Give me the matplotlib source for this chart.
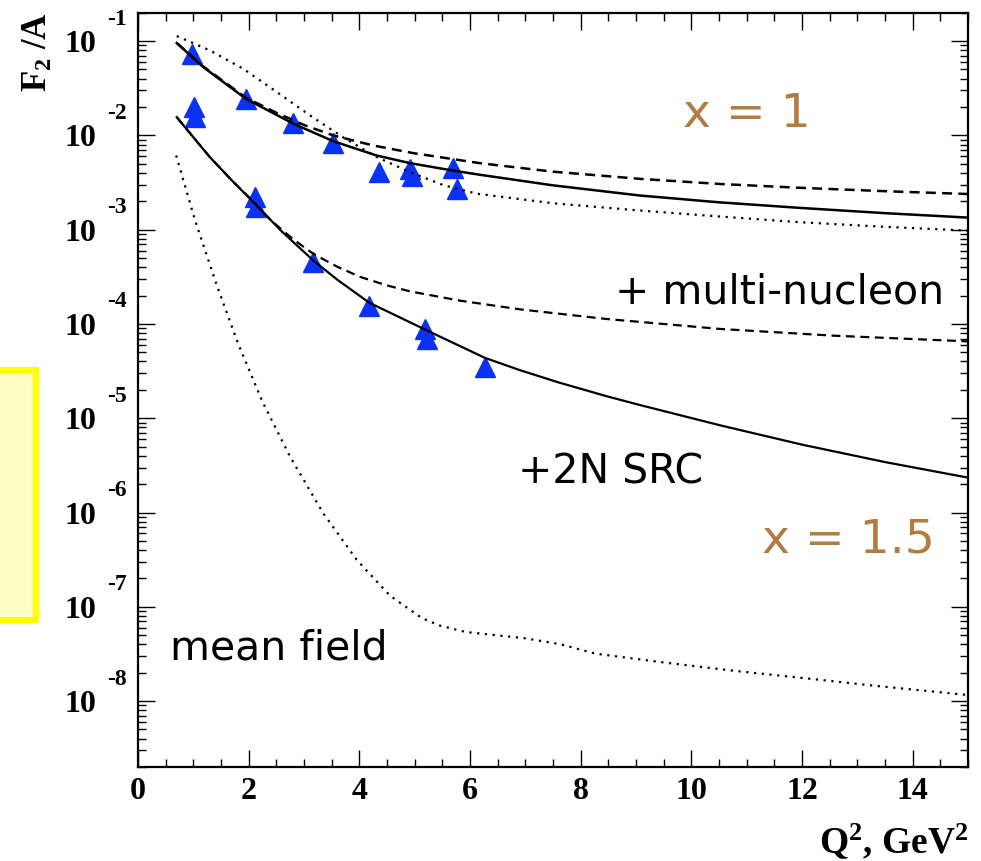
import matplotlib
matplotlib.use('Agg')
import matplotlib.pyplot as plt
import matplotlib.transforms as mtransforms
from matplotlib.patches import Rectangle
from matplotlib.ticker import MultipleLocator, LogLocator, NullFormatter
import numpy as np

plt.rcParams['font.family'] = 'Liberation Serif'
plt.rcParams['font.weight'] = 'bold'
plt.rcParams['mathtext.fontset'] = 'custom'
plt.rcParams['mathtext.rm'] = 'Liberation Serif:bold'
plt.rcParams['mathtext.it'] = 'Liberation Serif:bold'
plt.rcParams['mathtext.bf'] = 'Liberation Serif:bold'

# data points (x = 1 and x = 1.5), Q^2 in GeV^2, log10(F2/A)
q2_x1 = [0.98, 1.95, 2.80, 3.53, 4.36, 4.92, 4.95, 5.69, 5.77]
lg_x1 = [-1.141, -1.612, -1.871, -2.083, -2.391, -2.355, -2.426, -2.344, -2.567]
q2_x15 = [1.02, 1.03, 2.12, 2.13, 3.17, 4.18, 5.19, 5.22, 6.27]
lg_x15 = [-1.701, -1.807, -2.656, -2.762, -3.346, -3.806, -4.053, -4.160, -4.461]

# x = 1 curves
q2_s1 = [0.70, 1.18, 1.95, 2.81, 3.53, 4.31, 4.92, 5.69, 6.18, 7.5, 9.07, 10.5, 11.96, 13.5, 15.0]
lg_s1 = [-1.021, -1.276, -1.612, -1.877, -2.062, -2.213, -2.295, -2.373, -2.418, -2.53, -2.638, -2.71, -2.769, -2.825, -2.872]
q2_d1 = [0.70, 1.18, 1.95, 2.5, 3.0, 3.53, 4.25, 4.98, 6.18, 7.5, 9.07, 10.5, 11.96, 13.5, 15.0]
lg_d1 = [-1.02, -1.27, -1.60, -1.76, -1.89, -2.001, -2.107, -2.189, -2.295, -2.385, -2.461, -2.515, -2.556, -2.592, -2.622]
q2_m1 = [0.70, 1.30, 1.90, 2.51, 3.11, 3.72, 4.32, 4.92, 5.52, 6.12, 7.5, 9.07, 10.5, 11.96, 13.5, 15.0]
lg_m1 = [-0.947, -1.099, -1.293, -1.541, -1.789, -2.026, -2.232, -2.391, -2.528, -2.618, -2.72, -2.797, -2.86, -2.921, -2.97, -3.01]

# x = 1.5 curves
q2_s15 = [0.70, 1.30, 1.70, 2.115, 2.6, 3.17, 3.6, 4.18, 4.8, 5.19, 6.27, 6.9, 7.6, 8.46, 9.07, 10.52, 12.0, 13.5, 15.0]
lg_s15 = [-1.807, -2.232, -2.48, -2.726, -3.02, -3.328, -3.53, -3.775, -3.95, -4.06, -4.36, -4.49, -4.62, -4.765, -4.86, -5.075, -5.28, -5.465, -5.63]
q2_d15 = [0.70, 1.30, 1.70, 2.115, 2.39, 2.8, 3.17, 3.59, 4.01, 4.49, 4.92, 5.82, 6.90, 8.46, 10.52, 12.56, 15.0]
lg_d15 = [-1.807, -2.232, -2.48, -2.72, -2.895, -3.10, -3.257, -3.39, -3.50, -3.59, -3.655, -3.753, -3.845, -3.947, -4.053, -4.124, -4.185]
q2_mf = [0.69, 1.03, 1.43, 1.81, 2.25, 2.75, 3.35, 3.95, 4.55, 5.13, 5.46, 5.92, 7.0, 7.64, 8.27, 9.54, 10.81, 12.08, 13.36, 15.0]
lg_mf = [-2.213, -2.90, -3.60, -4.21, -4.826, -5.41, -6.01, -6.50, -6.88, -7.12, -7.20, -7.267, -7.334, -7.398, -7.497, -7.593, -7.681, -7.759, -7.840, -7.936]

xticks = [0, 2, 4, 6, 8, 10, 12, 14]
ydecades = [-1, -2, -3, -4, -5, -6, -7, -8]

fig = plt.figure(figsize=(9.81, 8.61), dpi=100)
ax = fig.add_axes([138/981, 1 - 767/861, 830/981, (767 - 12.7)/861])

def p(v):
    return 10.0 ** np.array(v)

blue = '#0a32f5'
ax.plot(q2_x1, p(lg_x1), '^', ms=14.5, color=blue, zorder=2)
ax.plot(q2_x15, p(lg_x15), '^', ms=14.5, color=blue, zorder=2)

dash = (0, (4, 2.5))
dot = (0, (1, 2.5))
ax.plot(q2_s1, p(lg_s1), color='black', lw=1.8, zorder=3)
ax.plot(q2_d1, p(lg_d1), color='black', lw=1.8, ls=dash, zorder=3)
ax.plot(q2_m1, p(lg_m1), color='black', lw=1.6, ls=dot, zorder=3)
ax.plot(q2_s15, p(lg_s15), color='black', lw=1.6, zorder=3)
ax.plot(q2_d15, p(lg_d15), color='black', lw=1.6, ls=dash, zorder=3)
ax.plot(q2_mf, p(lg_mf), color='black', lw=1.6, ls=dot, zorder=3)

ax.set_xlim(0, 15)
ax.set_yscale('log')
ax.set_ylim(2e-9, 0.2)

ax.set_xticks(xticks)
ax.set_xticklabels([str(t) for t in xticks])
ax.xaxis.set_minor_locator(MultipleLocator(0.5))
ax.set_yticks(p(ydecades))
ax.set_yticklabels(['10'] * len(ydecades))
ax.yaxis.set_minor_locator(LogLocator(base=10, subs=np.arange(2, 10)))
ax.yaxis.set_minor_formatter(NullFormatter())

ax.tick_params(which='both', direction='in', top=True, right=True, width=1.0)
ax.tick_params(which='major', length=12)
ax.tick_params(which='minor', length=6)
ax.tick_params(axis='x', labelsize=23, pad=7)
ax.tick_params(axis='y', labelsize=23, pad=30)
for s in ax.spines.values():
    s.set_linewidth(1.6)

# exponents of the y tick labels
trans = mtransforms.blended_transform_factory(ax.transAxes, ax.transData)
for d in ydecades:
    ax.text(-0.0373, 10.0 ** (d + 0.234), str(d), transform=trans,
            ha='left', va='center', fontsize=17, fontweight='bold')

fig.text(38/981, 1 - 12/861, r'F$_{2}$ /A', rotation=90, ha='center', va='top',
         fontsize=25, fontweight='bold')
fig.text(968/981, 1 - 853/861, r'Q$^{2}$, GeV$^{2}$', ha='right', va='baseline',
         fontsize=27, fontweight='bold')

brown = '#b07c42'
tf = dict(transform=ax.transAxes, family='DejaVu Sans', fontweight='normal', va='baseline', ha='left')
ax.text(0.657, 0.848, 'x = 1', color=brown, fontsize=34, **tf)
ax.text(0.752, 0.285, 'x = 1.5', color=brown, fontsize=34, **tf)
ax.text(0.575, 0.615, '+ multi-nucleon', color='black', fontsize=29.5, **tf)
ax.text(0.458, 0.3765, '+2N SRC', color='black', fontsize=29.5, **tf)
ax.text(0.0386, 0.142, 'mean field', color='black', fontsize=29.5, **tf)

# yellow box at the left edge
fig.add_artist(Rectangle((-20/981, 1 - 620/861), 56/981, 250/861, transform=fig.transFigure,
                         facecolor='#ffffc4', edgecolor='#ffff00', lw=4.3))

fig.savefig('out.png', dpi=100)
